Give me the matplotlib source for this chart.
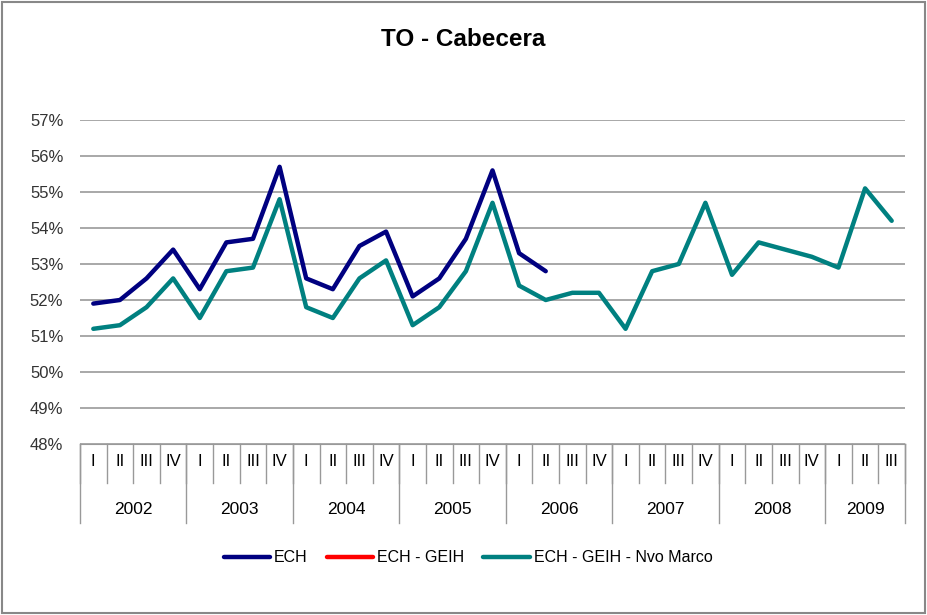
import matplotlib.pyplot as plt
from matplotlib.patches import Rectangle

plt.rcParams['font.family'] = ['Liberation Sans', 'DejaVu Sans']

years = ['2002', '2003', '2004', '2005', '2006', '2007', '2008', '2009']
quarters = ['I', 'II', 'III', 'IV'] * 7 + ['I', 'II', 'III']

ech = [51.9, 52.0, 52.6, 53.4, 52.3, 53.6, 53.7, 55.7, 52.6, 52.3, 53.5, 53.9,
       52.1, 52.6, 53.7, 55.6, 53.3, 52.8]
ech_geih = []
nvo_marco = [51.2, 51.3, 51.8, 52.6, 51.5, 52.8, 52.9, 54.8, 51.8, 51.5, 52.6, 53.1,
             51.3, 51.8, 52.8, 54.7, 52.4, 52.0, 52.2, 52.2, 51.2, 52.8, 53.0, 54.7,
             52.7, 53.6, 53.4, 53.2, 52.9, 55.1, 54.2]

W, H = 927, 615
fig = plt.figure(figsize=(W / 100, H / 100), dpi=100)
fig.patches.append(Rectangle((2 / W, 2 / H), 1 - 4 / W, 1 - 4 / H, transform=fig.transFigure,
                             fill=False, edgecolor='#888888', linewidth=1.5))

left, right, top, bottom = 80, 905, 120, 444
ax = fig.add_axes([left / W, 1 - bottom / H, (right - left) / W, (bottom - top) / H])

ax.plot(range(len(ech)), ech, color='#000080', lw=3.2, label='ECH', solid_capstyle='round')
ax.plot(range(len(ech_geih)), ech_geih, color='#FF0000', lw=3.2, label='ECH - GEIH',
        solid_capstyle='round')
ax.plot(range(len(nvo_marco)), nvo_marco, color='#008080', lw=3.2,
        label='ECH - GEIH - Nvo Marco', solid_capstyle='round')

ax.set_xlim(-0.5, len(quarters) - 0.5)
ax.set_ylim(48, 57)
ax.set_yticks(range(48, 58))
ax.set_yticklabels([f'{v}%' for v in range(48, 58)], fontsize=12, color='#333333')
ax.grid(axis='y', color='#999999', linewidth=1.2)
ax.set_axisbelow(True)
for s in ['left', 'right', 'top']:
    ax.spines[s].set_visible(False)
ax.spines['bottom'].set_color('#999999')
ax.tick_params(axis='y', length=0, pad=12)
ax.tick_params(axis='x', length=0)
ax.set_xticks([])

# category axis drawn by hand: quarters and years
h = bottom - top
tr = ax.get_xaxis_transform()
for i in range(len(quarters) + 1):
    ax.plot([i - 0.5, i - 0.5], [0, -39 / h], transform=tr, color='#999999', lw=1, clip_on=False)
for i, q in enumerate(quarters):
    ax.text(i, -17 / h, q, transform=tr, ha='center', va='center', fontsize=12,
            family=['Liberation Sans Narrow', 'Liberation Sans'])
for k, y in enumerate(years):
    x0 = 4 * k - 0.5
    x1 = min(4 * k + 3.5, len(quarters) - 0.5)
    ax.plot([x0, x0], [0, -79 / h], transform=tr, color='#999999', lw=1, clip_on=False)
    ax.text((x0 + x1) / 2, -65 / h, y, transform=tr, ha='center', va='center', fontsize=12.5)
ax.plot([len(quarters) - 0.5] * 2, [0, -79 / h], transform=tr, color='#999999', lw=1, clip_on=False)

fig.text(0.5, 1 - 39 / H, 'TO - Cabecera', ha='center', va='center', fontsize=17.5, fontweight='bold')
fig.legend(loc='center', bbox_to_anchor=(0.505, 1 - 558 / H), ncol=3, frameon=False,
           fontsize=11.5, handlelength=2.9, columnspacing=1.2, handletextpad=0.25)

fig.savefig('out.png', dpi=100)
